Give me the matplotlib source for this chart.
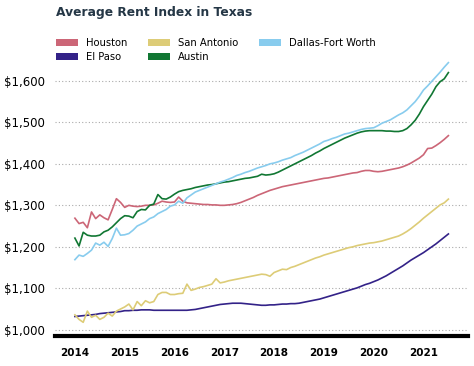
import numpy as np
import matplotlib
matplotlib.use("Agg")
import matplotlib.pyplot as plt
from matplotlib.patches import Patch
from matplotlib.ticker import FuncFormatter

# monthly values, Jan 2014 .. Jul 2021
houston = [1269, 1256, 1259, 1246, 1284, 1268, 1277, 1270, 1265, 1290, 1316, 1307,
           1295, 1300, 1298, 1297, 1298, 1300, 1300, 1301, 1305, 1310, 1308, 1307,
           1308, 1320, 1310, 1306, 1305, 1304, 1303, 1302, 1302, 1301, 1301, 1300,
           1300, 1301, 1302, 1304, 1307, 1311, 1315, 1319, 1324, 1328, 1332, 1336,
           1339, 1342, 1345, 1347, 1349, 1351, 1353, 1355, 1357, 1359, 1361, 1363,
           1365, 1366, 1368, 1370, 1372, 1374, 1376, 1378, 1379, 1382, 1384, 1384,
           1382, 1381, 1382, 1384, 1386, 1388, 1390, 1393, 1397, 1402, 1408, 1414,
           1422, 1437, 1438, 1444, 1451, 1459, 1468]
el_paso = [1032, 1033, 1034, 1035, 1036, 1037, 1039, 1040, 1041, 1042, 1043, 1044,
           1046, 1046, 1047, 1047, 1048, 1048, 1048, 1047, 1047, 1047, 1047, 1047,
           1047, 1047, 1047, 1047, 1048, 1049, 1051, 1053, 1055, 1057, 1059, 1061,
           1062, 1063, 1064, 1064, 1064, 1063, 1062, 1061, 1060, 1059, 1059, 1060,
           1060, 1061, 1062, 1062, 1063, 1063, 1064, 1066, 1068, 1070, 1072, 1074,
           1077, 1080, 1083, 1086, 1089, 1092, 1095, 1098, 1101, 1105, 1109, 1112,
           1116, 1120, 1125, 1130, 1136, 1142, 1148, 1154, 1161, 1168, 1174, 1180,
           1186, 1193, 1200, 1207, 1215, 1223, 1231]
san_antonio = [1036, 1025, 1018, 1045, 1030, 1035, 1025, 1030, 1040, 1033, 1045, 1050,
               1055, 1062, 1048, 1068, 1058, 1070, 1065, 1068, 1085, 1090, 1090, 1085,
               1085, 1087, 1088, 1110, 1095, 1098, 1102, 1104, 1107, 1110, 1123, 1113,
               1115, 1118, 1120, 1122, 1124, 1126, 1128, 1130, 1132, 1134, 1133, 1129,
               1138, 1142, 1146, 1145, 1150, 1153, 1157, 1161, 1165, 1169, 1173, 1176,
               1180, 1183, 1186, 1189, 1192, 1195, 1198, 1200, 1203, 1205, 1207, 1209,
               1210, 1212, 1214, 1217, 1220, 1223, 1226, 1231, 1237, 1244, 1252, 1260,
               1269, 1277, 1285, 1293, 1301, 1306, 1315]
austin = [1221, 1202, 1235, 1228, 1226, 1226, 1228, 1236, 1240, 1248, 1258, 1268,
          1275, 1274, 1270, 1285, 1290, 1289, 1300, 1303, 1326, 1316, 1315, 1320,
          1327, 1333, 1336, 1338, 1340, 1343, 1345, 1347, 1349, 1350, 1352, 1354,
          1356, 1357, 1359, 1361, 1363, 1365, 1366, 1368, 1370, 1375, 1373, 1374,
          1376, 1380, 1385, 1390, 1395, 1400, 1405, 1410, 1415, 1420, 1426, 1431,
          1437, 1442, 1447, 1452, 1457, 1462, 1466, 1470, 1474, 1477, 1479, 1480,
          1480, 1480, 1480, 1479, 1479, 1478, 1478, 1480, 1485, 1494, 1505, 1520,
          1538, 1553, 1568, 1586, 1598, 1605, 1620]
dallas = [1169, 1180, 1177, 1184, 1192, 1209, 1204, 1211, 1201, 1220, 1245, 1228,
          1229, 1232, 1240, 1250, 1255, 1260, 1268, 1272, 1280, 1285, 1290, 1298,
          1301, 1310, 1305, 1318, 1325, 1332, 1336, 1340, 1344, 1348, 1352, 1356,
          1359, 1363, 1367, 1372, 1375, 1379, 1382, 1386, 1390, 1393, 1396, 1400,
          1402, 1405, 1409, 1412, 1415, 1420, 1424, 1428, 1433, 1438, 1443, 1448,
          1454, 1457, 1461, 1464, 1468, 1472, 1474, 1477, 1480, 1483, 1485, 1486,
          1487, 1492, 1498, 1502, 1506, 1512, 1518, 1523, 1530, 1540, 1550, 1563,
          1578, 1588, 1599, 1610, 1621, 1633, 1644]

years = [2014, 2015, 2016, 2017, 2018, 2019, 2020, 2021]
x = 2014 + np.arange(len(houston)) / 12

series = [("Houston", houston, "#CC6677"),
          ("El Paso", el_paso, "#332288"),
          ("San Antonio", san_antonio, "#DDCC77"),
          ("Austin", austin, "#117733"),
          ("Dallas-Fort Worth", dallas, "#88CCEE")]

fig = plt.figure(figsize=(4.74, 3.66), dpi=100)
ax = fig.add_axes([0.116, 0.082, 0.872, 0.765])

for name, vals, col in series:
    ax.plot(x, vals, color=col, lw=1.2)

ax.set_xlim(2013.6, 2021.9)
ax.set_ylim(985, 1660)
ax.set_xticks(years)
ax.set_xticklabels([str(y) for y in years], fontweight="bold", fontsize=7.5)
ax.set_yticks([1000, 1100, 1200, 1300, 1400, 1500, 1600])
ax.yaxis.set_major_formatter(FuncFormatter(lambda v, p: f"${v:,.0f}"))
ax.tick_params(axis="y", labelsize=8.5, length=0, pad=7)
ax.tick_params(axis="x", length=0, pad=9)
ax.grid(axis="y", linestyle=(0, (1, 2)), color="#aaaaaa", lw=0.8)
for s in ["top", "right", "left"]:
    ax.spines[s].set_visible(False)
ax.spines["bottom"].set_linewidth(3)
ax.spines["bottom"].set_color("black")

fig.text(0.118, 0.965, "Average Rent Index in Texas", fontsize=8.8,
         fontweight="bold", color="#253746", va="center", ha="left")

handles = [Patch(facecolor=c, edgecolor="none", label=n) for n, v, c in series]
fig.legend(handles=handles, ncol=3, loc="upper left", bbox_to_anchor=(0.099, 0.922),
           frameon=False, fontsize=7.2, handlelength=2.25, handleheight=0.7,
           handletextpad=0.8, columnspacing=2.0, labelspacing=0.45)

fig.savefig("out.png", dpi=100)
